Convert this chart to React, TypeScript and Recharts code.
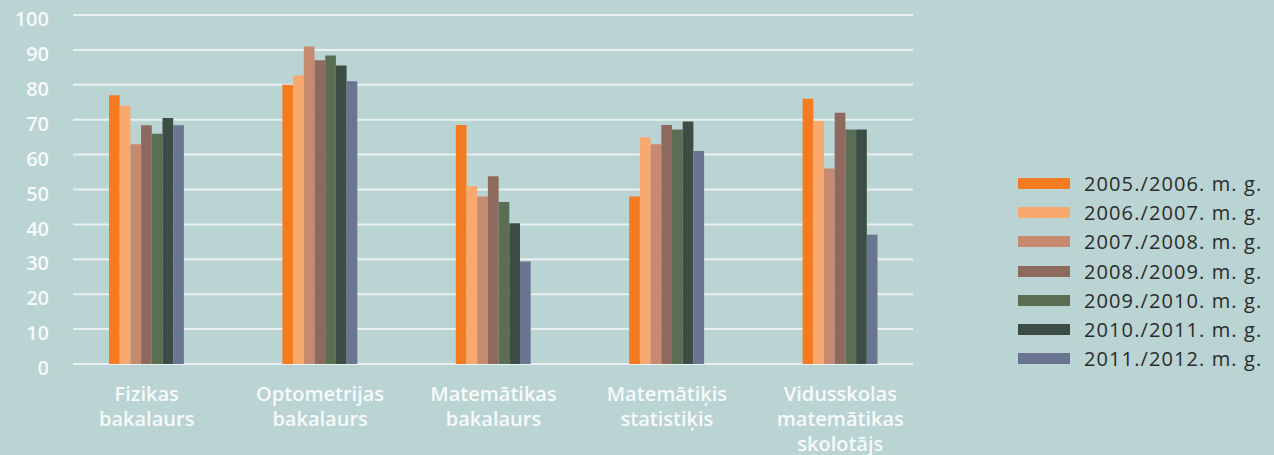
import React from 'react';
import { BarChart, Bar, XAxis, YAxis, CartesianGrid, Legend } from 'recharts';

const categories = [
  'Fizikas\nbakalaurs',
  'Optometrijas\nbakalaurs',
  'Matemātikas\nbakalaurs',
  'Matemātiķis\nstatistiķis',
  'Vidusskolas\nmatemātikas\nskolotājs',
];

const years = [
  '2005./2006. m. g.',
  '2006./2007. m. g.',
  '2007./2008. m. g.',
  '2008./2009. m. g.',
  '2009./2010. m. g.',
  '2010./2011. m. g.',
  '2011./2012. m. g.',
];

// one array per study year, in category order
const y2005 = [77, 80, 68.5, 48, 76];
const y2006 = [74, 82.7, 51, 65, 69.6];
const y2007 = [63, 91, 48, 63, 56];
const y2008 = [68.4, 87, 53.8, 68.5, 72];
const y2009 = [66, 88.4, 46.4, 67.2, 67.2];
const y2010 = [70.5, 85.5, 40.3, 69.5, 67.2];
const y2011 = [68.4, 81, 29.4, 61, 37];

const yTicks = [0, 10, 20, 30, 40, 50, 60, 70, 80, 90, 100];

const COLORS = ['#F47B20', '#F9A96E', '#C58A70', '#8E6A5E', '#5A6E54', '#3C4D45', '#6A7591'];

const seriesValues = [y2005, y2006, y2007, y2008, y2009, y2010, y2011];

const data = categories.map((name, i) => {
  const row: Record<string, string | number> = { name };
  years.forEach((year, s) => {
    row[year] = seriesValues[s][i];
  });
  return row;
});

const FONT = '"Open Sans", "DejaVu Sans", sans-serif';

const CategoryTick = (props: any) => {
  const { x, y, payload } = props;
  const lines = String(payload.value).split('\n');
  return (
    <text
      x={x}
      y={y}
      textAnchor="middle"
      fill="#F7FAFA"
      fontSize={20}
      fontWeight={600}
      fontFamily={FONT}
    >
      {lines.map((line, i) => (
        <tspan key={i} x={x} y={y + 37 + i * 25}>
          {line}
        </tspan>
      ))}
    </text>
  );
};

const GridLine = (props: any) => {
  const { x1, x2, y1, y2 } = props;
  return <line x1={x1 + 13} x2={x2 - 14} y1={y1} y2={y2} stroke="#E8F0F0" strokeWidth={2} />;
};

const LegendList = (props: any) => {
  const { payload } = props;
  return (
    <div style={{ fontFamily: FONT }}>
      {(payload || []).map((entry: any) => (
        <div
          key={entry.value}
          style={{ display: 'flex', alignItems: 'center', height: 29.2 }}
        >
          <span
            style={{
              display: 'inline-block',
              width: 52,
              height: 11,
              background: entry.color,
              marginRight: 14,
            }}
          />
          <span style={{ fontSize: 20, color: '#2B2B2B', letterSpacing: 1.1, whiteSpace: 'nowrap' }}>
            {entry.value}
          </span>
        </div>
      ))}
    </div>
  );
};

const App: React.FC = () => {
  return (
    <div
      style={{
        position: 'absolute',
        left: 0,
        top: 0,
        width: 1274,
        height: 455,
        background: '#BAD3D3',
        overflow: 'hidden',
      }}
    >
      <BarChart
        width={1274}
        height={455}
        data={data}
        margin={{ top: 15, right: 347, bottom: 0, left: 0 }}
        barGap={0}
      >
        <CartesianGrid vertical={false} horizontal={GridLine} />
        <XAxis
          dataKey="name"
          axisLine={false}
          tickLine={false}
          tickSize={0}
          tickMargin={0}
          height={91}
          interval={0}
          tick={<CategoryTick />}
        />
        <YAxis
          width={60}
          domain={[0, 100]}
          ticks={yTicks}
          axisLine={false}
          tickLine={false}
          tickSize={0}
          tickMargin={11}
          tick={{ fill: '#F7FAFA', fontSize: 20, fontWeight: 600, fontFamily: FONT, dy: 4 }}
        />
        <Legend
          layout="vertical"
          align="center"
          verticalAlign="middle"
          content={<LegendList />}
          wrapperStyle={{ left: 1018, top: 169, width: 256 }}
        />
        {years.map((year, s) => (
          <Bar
            key={year}
            dataKey={year}
            fill={COLORS[s]}
            barSize={10.7}
            isAnimationActive={false}
          />
        ))}
      </BarChart>
    </div>
  );
};

export default App;
